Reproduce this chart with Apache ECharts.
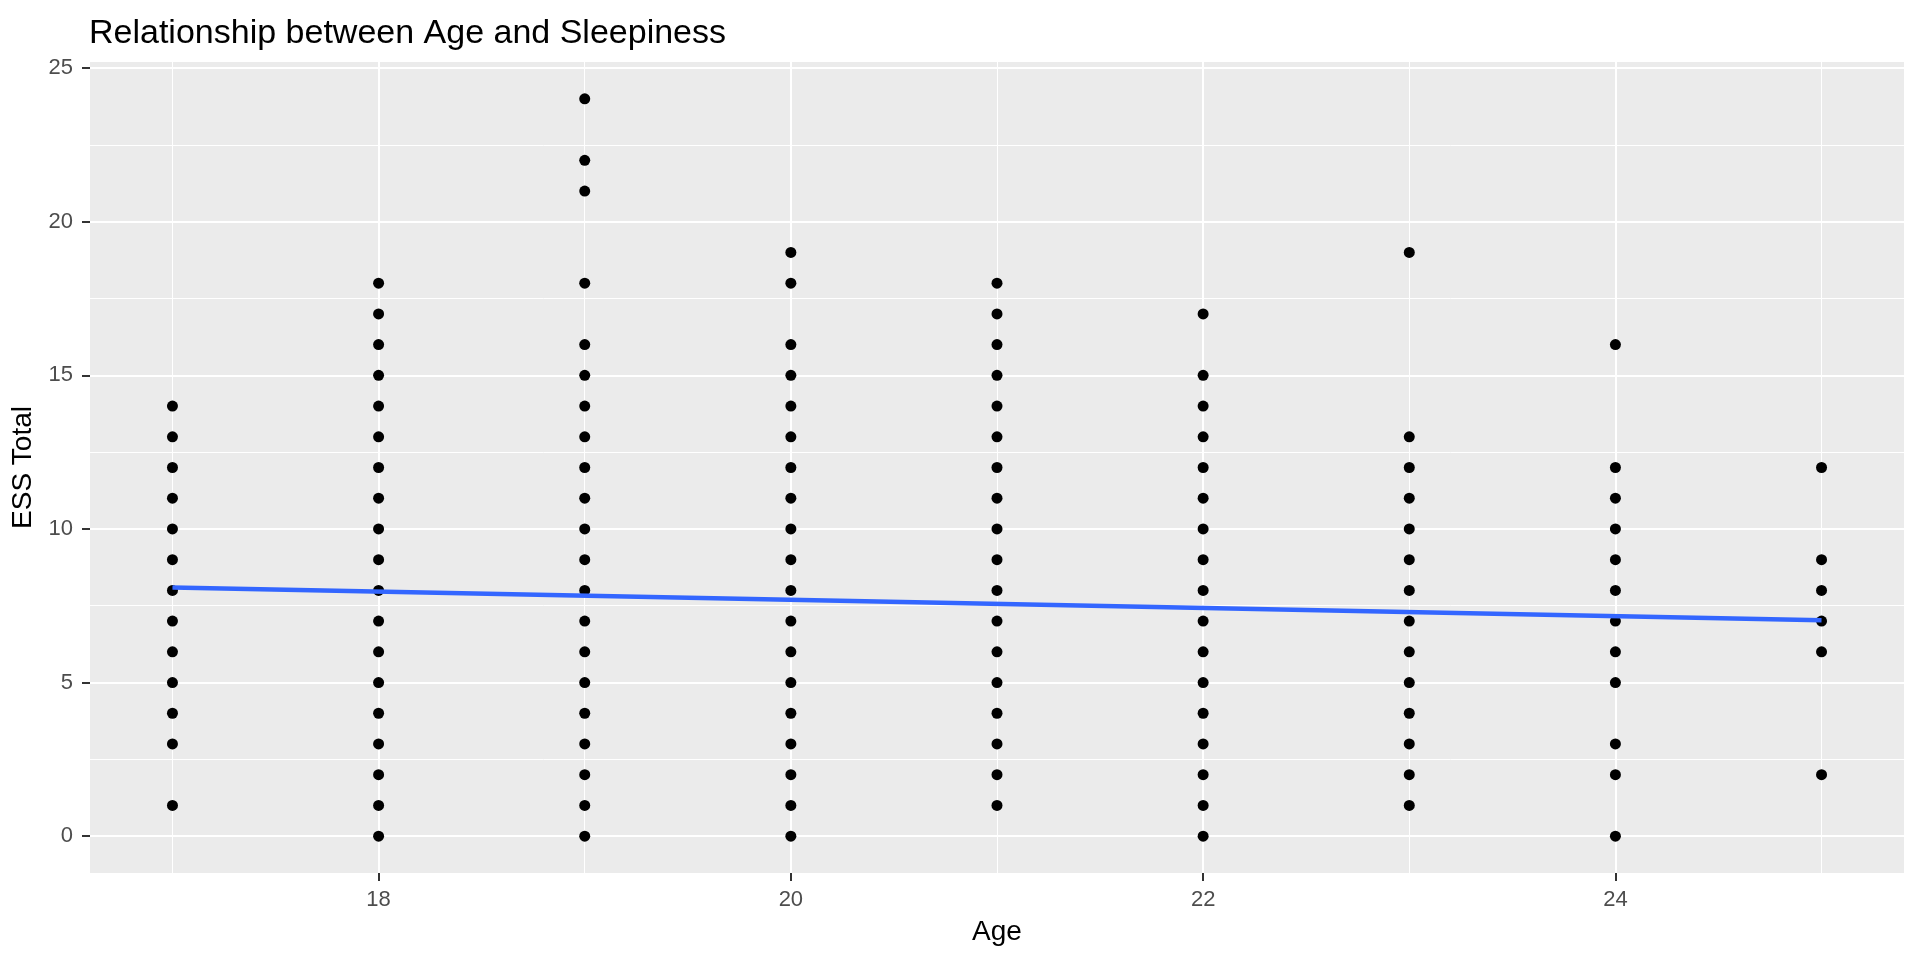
<!DOCTYPE html>
<html>
<head>
<meta charset="utf-8">
<script src="https://cdn.jsdelivr.net/npm/echarts@6/dist/echarts.min.js"></script>
<style>html,body{margin:0;padding:0;background:#fff}#c{width:1920px;height:960px}</style>
</head>
<body>
<div id="c"></div>
<script>
// Data
const ages = [17, 18, 19, 20, 21, 22, 23, 24, 25];
const ess17 = [1, 3, 4, 5, 6, 7, 8, 9, 10, 11, 12, 13, 14];
const ess18 = [0, 1, 2, 3, 4, 5, 6, 7, 8, 9, 10, 11, 12, 13, 14, 15, 16, 17, 18];
const ess19 = [0, 1, 2, 3, 4, 5, 6, 7, 8, 9, 10, 11, 12, 13, 14, 15, 16, 18, 21, 22, 24];
const ess20 = [0, 1, 2, 3, 4, 5, 6, 7, 8, 9, 10, 11, 12, 13, 14, 15, 16, 18, 19];
const ess21 = [1, 2, 3, 4, 5, 6, 7, 8, 9, 10, 11, 12, 13, 14, 15, 16, 17, 18];
const ess22 = [0, 1, 2, 3, 4, 5, 6, 7, 8, 9, 10, 11, 12, 13, 14, 15, 17];
const ess23 = [1, 2, 3, 4, 5, 6, 7, 8, 9, 10, 11, 12, 13, 19];
const ess24 = [0, 2, 3, 5, 6, 7, 8, 9, 10, 11, 12, 16];
const ess25 = [2, 6, 7, 8, 9, 12];
const fitAges = [17, 25];
const fitValues = [8.09, 7.03];
const xMajorTicks = [18, 20, 22, 24];
const xMinorTicks = [17, 19, 21, 23, 25];
const yMajorTicks = [0, 5, 10, 15, 20, 25];
const yMinorTicks = [2.5, 7.5, 12.5, 17.5, 22.5];

const essByAge = [ess17, ess18, ess19, ess20, ess21, ess22, ess23, ess24, ess25];
const points = [];
ages.forEach((a, i) => essByAge[i].forEach(v => points.push([a, v])));
const fitLine = fitAges.map((a, i) => [a, fitValues[i]]);

const FONT = 'Liberation Sans, Arial, sans-serif';
const chart = echarts.init(document.getElementById('c'), null, {renderer: 'canvas'});
const xMin = 16.6, xMax = 25.4, yMin = -1.2, yMax = 25.2;

chart.setOption({
  animation: false,
  backgroundColor: '#ffffff',
  title: {
    text: 'Relationship between Age and Sleepiness',
    left: 84, top: 12,
    textStyle: {fontFamily: FONT, fontSize: 34, fontWeight: 'normal', color: '#000000', lineHeight: 34}
  },
  grid: {
    left: 90, right: 16, top: 62, bottom: 87,
    show: true, backgroundColor: '#EBEBEB', borderWidth: 0
  },
  xAxis: [
    {
      type: 'value', min: xMin, max: xMax,
      name: 'Age', nameLocation: 'middle', nameGap: 45,
      nameTextStyle: {fontFamily: FONT, fontSize: 28, color: '#000000'},
      axisLine: {show: false, onZero: false},
      axisTick: {show: true, length: 8, customValues: xMajorTicks, lineStyle: {color: '#333333', width: 2}},
      axisLabel: {customValues: xMajorTicks, margin: 16, fontFamily: FONT, fontSize: 22, color: '#4D4D4D'},
      splitLine: {show: true, lineStyle: {color: '#FFFFFF', width: 2}},
      z: 1
    },
    {
      type: 'value', min: xMin, max: xMax, position: 'bottom',
      axisLine: {show: false, onZero: false},
      axisTick: {show: false, customValues: xMinorTicks},
      axisLabel: {show: false, customValues: xMinorTicks},
      splitLine: {show: true, lineStyle: {color: '#FFFFFF', width: 1}},
      z: 0
    }
  ],
  yAxis: [
    {
      type: 'value', min: yMin, max: yMax,
      name: 'ESS Total', nameLocation: 'middle', nameGap: 44, nameRotate: 90,
      nameTextStyle: {fontFamily: FONT, fontSize: 28, color: '#000000'},
      axisLine: {show: false, onZero: false},
      axisTick: {show: true, length: 8, customValues: yMajorTicks, lineStyle: {color: '#333333', width: 2}},
      axisLabel: {customValues: yMajorTicks, margin: 17, fontFamily: FONT, fontSize: 22, color: '#4D4D4D'},
      splitLine: {show: true, lineStyle: {color: '#FFFFFF', width: 2}},
      z: 1
    },
    {
      type: 'value', min: yMin, max: yMax, position: 'left',
      axisLine: {show: false, onZero: false},
      axisTick: {show: false, customValues: yMinorTicks},
      axisLabel: {show: false, customValues: yMinorTicks},
      splitLine: {show: true, lineStyle: {color: '#FFFFFF', width: 1}},
      z: 0
    }
  ],
  series: [
    {
      type: 'scatter', xAxisIndex: 0, yAxisIndex: 0,
      data: points, symbol: 'circle', symbolSize: 11,
      itemStyle: {color: '#000000', opacity: 1}, z: 3, silent: true
    },
    {
      type: 'line', xAxisIndex: 0, yAxisIndex: 0,
      data: fitLine, showSymbol: false, symbol: 'none',
      lineStyle: {color: '#3366FF', width: 4.5}, z: 4, silent: true
    }
  ]
});
</script>
</body>
</html>
